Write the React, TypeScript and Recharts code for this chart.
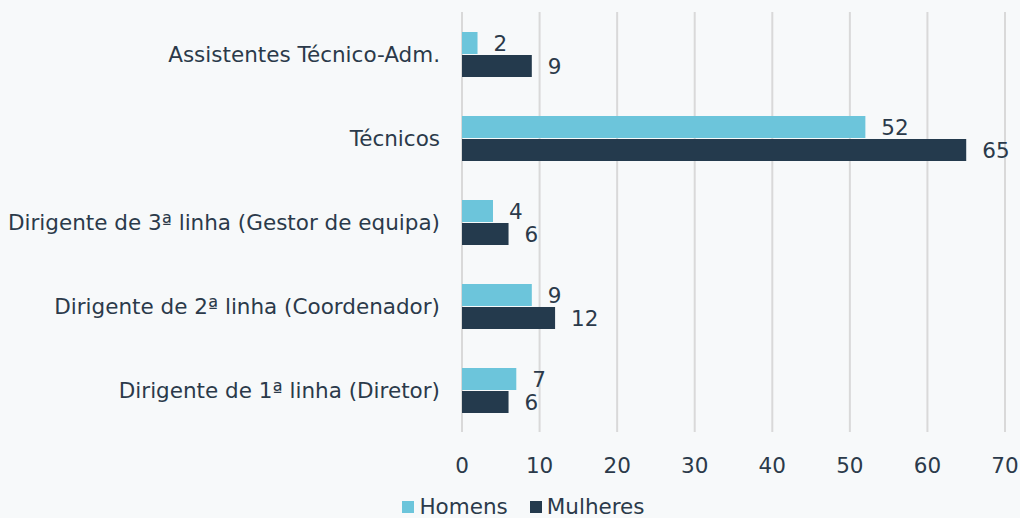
import { BarChart, Bar, XAxis, YAxis, CartesianGrid, Legend, LabelList } from 'recharts';

const categories = [
  'Assistentes Técnico-Adm.',
  'Técnicos',
  'Dirigente de 3ª linha (Gestor de equipa)',
  'Dirigente de 2ª linha (Coordenador)',
  'Dirigente de 1ª linha (Diretor)',
];
const homens = [2, 52, 4, 9, 7];
const mulheres = [9, 65, 6, 12, 6];
const xTicks = [0, 10, 20, 30, 40, 50, 60, 70];

const data = categories.map((name, i) => ({ name, Homens: homens[i], Mulheres: mulheres[i] }));

const TEXT = '#2B3A4A';
const FONT = '"DejaVu Sans", Verdana, sans-serif';
const FS = 21.5;

function LegendBox() {
  const items = [
    { label: 'Homens', color: '#6CC5DB' },
    { label: 'Mulheres', color: '#243A4D' },
  ];
  return (
    <div style={{ height: 36, display: 'flex', justifyContent: 'center', alignItems: 'flex-end', paddingLeft: 42, fontFamily: FONT, fontSize: FS, color: TEXT }}>
      {items.map((it) => (
        <div key={it.label} style={{ display: 'flex', alignItems: 'center', margin: '0 11px', lineHeight: '20px', position: 'relative', top: -1 }}>
          <span style={{ width: 12, height: 12, background: it.color, display: 'inline-block', marginRight: 5 }} />
          {it.label}
        </div>
      ))}
    </div>
  );
}

export default function App() {
  return (
    <div style={{ position: 'absolute', left: 0, top: 0, width: 1020, height: 518, background: '#F7F9FA', overflow: 'hidden' }}>
      <BarChart
        width={1020}
        height={518}
        data={data}
        layout="vertical"
        margin={{ top: 12, right: 15, left: 0, bottom: 0 }}
        barSize={22}
        barGap={1}
        style={{ fontFamily: FONT }}
      >
        <CartesianGrid horizontal={false} stroke="#D9D9D9" strokeWidth={2} />
        <XAxis
          type="number"
          domain={[0, 70]}
          ticks={xTicks}
          axisLine={false}
          tickLine={false}
          tickMargin={20}
          height={50}
          tick={{ fill: TEXT, fontSize: FS }}
        />
        <YAxis
          type="category"
          dataKey="name"
          width={462}
          axisLine={false}
          tickLine={false}
          tickSize={0}
          tickMargin={22}
          tick={{ fill: TEXT, fontSize: FS }}
        />
        <Legend verticalAlign="bottom" height={36} content={() => <LegendBox />} />
        <Bar dataKey="Homens" fill="#6CC5DB" isAnimationActive={false}>
          <LabelList dataKey="Homens" position="right" offset={16} fill={TEXT} fontSize={FS} />
        </Bar>
        <Bar dataKey="Mulheres" fill="#243A4D" isAnimationActive={false}>
          <LabelList dataKey="Mulheres" position="right" offset={16} fill={TEXT} fontSize={FS} />
        </Bar>
      </BarChart>
    </div>
  );
}
